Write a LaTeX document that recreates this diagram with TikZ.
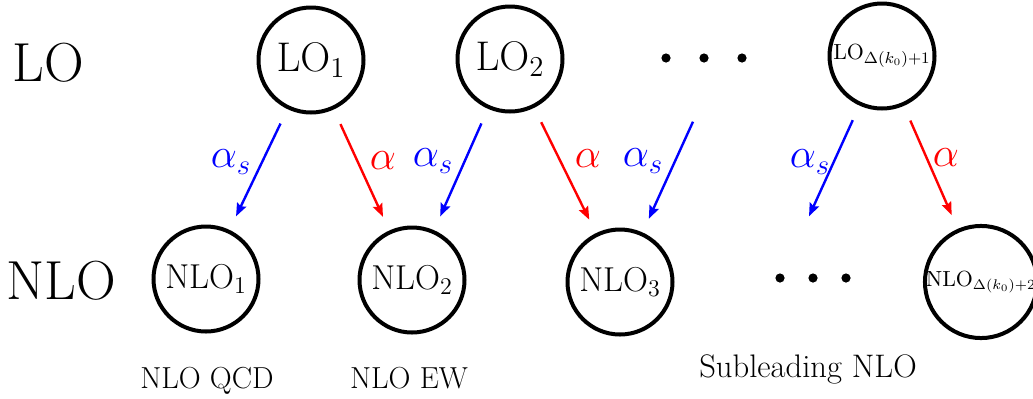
\documentclass[tikz,border=0pt]{standalone}
\usetikzlibrary{arrows.meta}
\begin{document}
\begin{tikzpicture}[x=0.5pt,y=-0.5pt,
  circ/.style={circle,draw=black,line width=2pt,minimum size=52.5pt,inner sep=0pt},
  lofont/.style={font=\fontsize{19.5}{23}\selectfont},
  nlofont/.style={font=\fontsize{17}{20}\selectfont},
  rowlab/.style={font=\fontsize{27.5}{32}\selectfont,inner sep=0pt},
  botlab/.style={font=\fontsize{15.2}{18}\selectfont,inner sep=0pt,anchor=base},
  coup/.style={font=\fontsize{20}{24}\selectfont,inner sep=0pt},
  arr/.style={line width=1.2pt,-{Stealth[length=6.5pt,width=5pt,inset=1pt]},shorten <=8pt,shorten >=7.5pt},
  qcd/.style={arr,blue},
  ew/.style={arr,red},
  dot/.style={fill=black}]
  \useasboundingbox (0,0) rectangle (1033,398);
  % row labels
  \node[rowlab] (tLO) at (48,63) {LO};
  \node[rowlab] (tNLO) at (61,281) {NLO};
  % LO row
  \node[circ,lofont] (LO1) at (311,60) {$\mathrm{LO}_1$};
  \node[circ,lofont] (LO2) at (510,59) {$\mathrm{LO}_2$};
  \coordinate (LO3) at (722,58);
  \node[circ,font=\fontsize{11}{13}\selectfont] (LOD) at (882,56) {$\mathrm{LO}_{\Delta(k_0)+1}$};
  \fill[dot] (666,58) circle (2.3pt);
  \fill[dot] (704,58) circle (2.3pt);
  \fill[dot] (742,58) circle (2.3pt);
  % NLO row
  \node[circ,nlofont] (NLO1) at (206,279) {$\mathrm{NLO}_1$};
  \node[circ,nlofont] (NLO2) at (412,280) {$\mathrm{NLO}_2$};
  \node[circ,nlofont] (NLO3) at (620,282) {$\mathrm{NLO}_3$};
  \coordinate (NLOh) at (780,280);
  \node[circ,font=\fontsize{10.5}{12}\selectfont] (NLOD) at (981,282) {$\mathrm{NLO}_{\Delta(k_0)+2}$};
  \fill[dot] (780,278) circle (2.3pt);
  \fill[dot] (813,278) circle (2.3pt);
  \fill[dot] (846,278) circle (2.3pt);
  % arrows
  \draw[qcd] (LO1) -- (NLO1);
  \draw[ew] (LO1) -- (NLO2);
  \draw[qcd] (LO2) -- (NLO2);
  \draw[ew] (LO2) -- (NLO3);
  \draw[qcd,shorten <=35pt] (LO3) -- (NLO3);
  \draw[qcd,shorten >=35pt] (LOD) -- (NLOh);
  \draw[ew] (LOD) -- (NLOD);
  % coupling labels
  \node[coup,blue] (a1) at (231,162) {$\alpha_s$};
  \node[coup,red] (b1) at (383,161) {$\alpha$};
  \node[coup,blue] (a2) at (433,161) {$\alpha_s$};
  \node[coup,red] (b2) at (588,159) {$\alpha$};
  \node[coup,blue] (a3) at (643,161) {$\alpha_s$};
  \node[coup,blue] (a4) at (810,162) {$\alpha_s$};
  \node[coup,red] (b4) at (946,158) {$\alpha$};
  % bottom labels
  \node[botlab] (lQCD) at (207,388) {NLO QCD};
  \node[botlab] (lEW) at (409,388) {NLO EW};
  \node[botlab,font=\fontsize{16.3}{19}\selectfont] (lSub) at (808,377) {Subleading NLO};
\end{tikzpicture}
\end{document}
